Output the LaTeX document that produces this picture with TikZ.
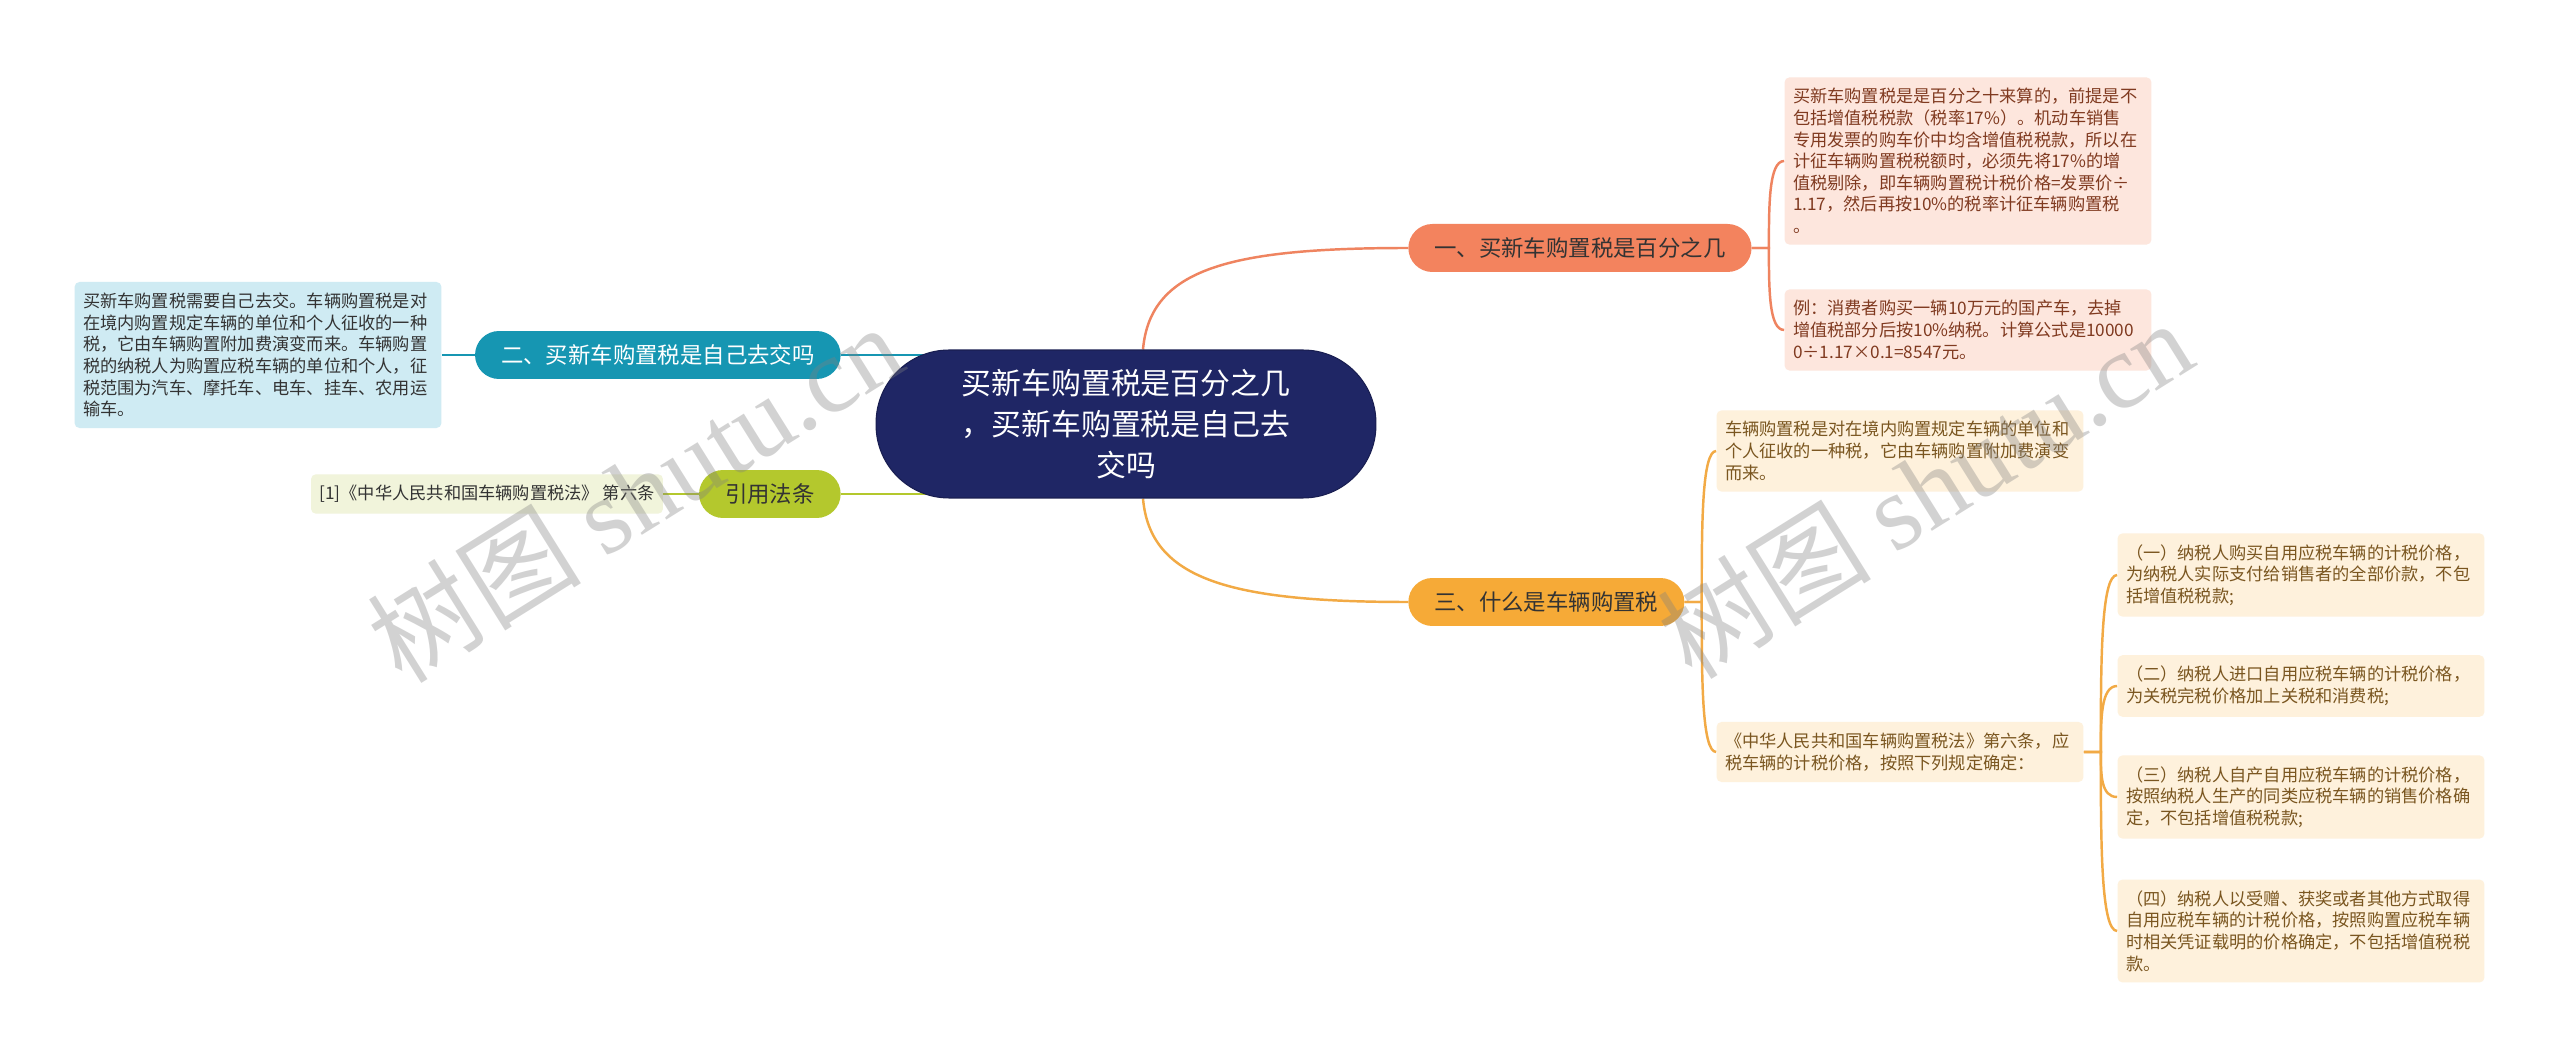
\documentclass[tikz,border=0pt]{standalone}
\usepackage{fontspec}
\setmainfont{Noto Sans CJK SC}
\newfontfamily\wmserif{Liberation Serif}
\usetikzlibrary{backgrounds,calc}

\definecolor{rootfill}{HTML}{1F2665}
\definecolor{orgbox}{HTML}{F3835E}
\definecolor{orgline}{HTML}{EF8460}
\definecolor{orgleaf}{HTML}{FDE6DD}
\definecolor{orgtext}{HTML}{803A20}
\definecolor{ambbox}{HTML}{F6AA37}
\definecolor{ambline}{HTML}{F2AA45}
\definecolor{ambleaf}{HTML}{FEF1DC}
\definecolor{ambtext}{HTML}{7A5620}
\definecolor{tealbox}{HTML}{1696B2}
\definecolor{tealleaf}{HTML}{CFEBF3}
\definecolor{limebox}{HTML}{B4C82D}
\definecolor{limeleaf}{HTML}{F1F4DB}
\definecolor{darktext}{HTML}{333333}

\begin{document}
\begin{tikzpicture}[x=0.02cm, y=-0.02cm,
    rootbox/.style={rectangle, rounded corners=1.46cm, fill=rootfill, draw=rootfill!80!black, line width=0.6pt,
      minimum width=10cm, minimum height=2.96cm, text=white, align=center,
      font=\fontsize{17pt}{23.2pt}\selectfont},
    topic/.style={rectangle, rounded corners=0.48cm, minimum height=0.96cm, inner xsep=0.52cm, inner ysep=0pt,
      text=darktext, font=\fontsize{12.75pt}{15pt}\selectfont},
    leafbase/.style={rectangle, rounded corners=0.1cm, inner xsep=0.17cm, inner ysep=0.22cm,
      text=darktext, font=\fontsize{9.8pt}{12.3pt}\selectfont},
    leaf/.style={leafbase, text width=7cm, align=left},
    link/.style={line width=1.4pt},
    wmark/.style={text=gray, opacity=0.35, rotate=32, font=\fontsize{61pt}{61pt}\selectfont}]
  \useasboundingbox (0,0) rectangle (2560,1060);

  % centre
  \node[rootbox] (root) at (1126,424) {买新车购置税是百分之几\\，买新车购置税是自己去\\交吗};

  % right, first branch
  \node[topic, fill=orgbox, anchor=west] (b1) at (1408,248) {一、买新车购置税是百分之几};
  \node[leaf, fill=orgleaf, text=orgtext] (l1a) at (1968,161) {买新车购置税是是百分之十来算的，前提是不\\包括增值税税款（税率17\%）。机动车销售\\专用发票的购车价中均含增值税税款，所以在\\计征车辆购置税税额时，必须先将17\%的增\\值税剔除，即车辆购置税计税价格=发票价÷\\1.17，然后再按10\%的税率计征车辆购置税\\。};
  \node[leaf, fill=orgleaf, text=orgtext] (l1b) at (1968,330) {例：消费者购买一辆10万元的国产车，去掉\\增值税部分后按10\%纳税。计算公式是10000\\0÷1.17×0.1=8547元。};

  % right, third branch
  \node[topic, fill=ambbox, anchor=west] (b4) at (1408,602) {三、什么是车辆购置税};
  \node[leaf, fill=ambleaf, text=ambtext] (l4a) at (1900,451) {车辆购置税是对在境内购置规定车辆的单位和\\个人征收的一种税，它由车辆购置附加费演变\\而来。};
  \node[leaf, fill=ambleaf, text=ambtext] (l4b) at (1900,752) {《中华人民共和国车辆购置税法》第六条，应\\税车辆的计税价格，按照下列规定确定：};
  \node[leaf, fill=ambleaf, text=ambtext] (s1) at (2301,575) {（一）纳税人购买自用应税车辆的计税价格，\\为纳税人实际支付给销售者的全部价款，不包\\括增值税税款;};
  \node[leaf, fill=ambleaf, text=ambtext] (s2) at (2301,686) {（二）纳税人进口自用应税车辆的计税价格，\\为关税完税价格加上关税和消费税;};
  \node[leaf, fill=ambleaf, text=ambtext] (s3) at (2301,797) {（三）纳税人自产自用应税车辆的计税价格，\\按照纳税人生产的同类应税车辆的销售价格确\\定，不包括增值税税款;};
  \node[leaf, fill=ambleaf, text=ambtext] (s4) at (2301,931) {（四）纳税人以受赠、获奖或者其他方式取得\\自用应税车辆的计税价格，按照购置应税车辆\\时相关凭证载明的价格确定，不包括增值税税\\款。};

  % left side
  \node[topic, fill=tealbox, text=white, anchor=east] (b2) at (841,355) {二、买新车购置税是自己去交吗};
  \node[leaf, fill=tealleaf] (l2) at (258,355) {买新车购置税需要自己去交。车辆购置税是对\\在境内购置规定车辆的单位和个人征收的一种\\税，它由车辆购置附加费演变而来。车辆购置\\税的纳税人为购置应税车辆的单位和个人，征\\税范围为汽车、摩托车、电车、挂车、农用运\\输车。};
  \node[topic, fill=limebox, anchor=east] (b3) at (841,494) {引用法条};
  \node[leafbase, fill=limeleaf] (l3) at (487,494) {[1]《中华人民共和国车辆购置税法》 第六条};

  \coordinate (k1) at ($(b1.east)+(17,0)$);
  \coordinate (k4) at ($(b4.east)+(17,0)$);
  \coordinate (k5) at ($(l4b.east)+(17,0)$);

  \begin{scope}[on background layer]
    \fill[white] (0,0) rectangle (2560,1060);
    \draw[link, orgline] ([xshift=0.34cm]root.north) .. controls +(7,-81) and +(-178,0) .. (b1.west);
    \draw[link, ambline] ([xshift=0.34cm]root.south) .. controls +(7,81) and +(-178,0) .. (b4.west);
    \draw[link, tealbox] (b2.east) -- (root.center |- b2.east);
    \draw[link, limebox] (b3.east) -- (root.center |- b3.east);
    \draw[link, tealbox] (l2.east) -- (b2.west);
    \draw[link, limebox] (l3.east) -- (b3.west);
    \foreach \n in {l1a,l1b}
      \draw[link, orgline] (b1.east) -- (k1) .. controls ($(k1)!0.5!(k1 |- \n.west)$) and (k1 |- \n.west) .. (\n.west);
    \foreach \n in {l4a,l4b}
      \draw[link, ambline] (b4.east) -- (k4) .. controls ($(k4)!0.5!(k4 |- \n.west)$) and (k4 |- \n.west) .. (\n.west);
    \foreach \n in {s1,s2,s3,s4}
      \draw[link, ambline] (l4b.east) -- (k5) .. controls ($(k5)!0.5!(k5 |- \n.west)$) and (k5 |- \n.west) .. (\n.west);
  \end{scope}

  % watermark
  \node[wmark] (wm1) at (635,492) {树图 {\wmserif shutu.cn}};
  \node[wmark] (wm2) at (1925,488) {树图 {\wmserif shutu.cn}};
\end{tikzpicture}
\end{document}
